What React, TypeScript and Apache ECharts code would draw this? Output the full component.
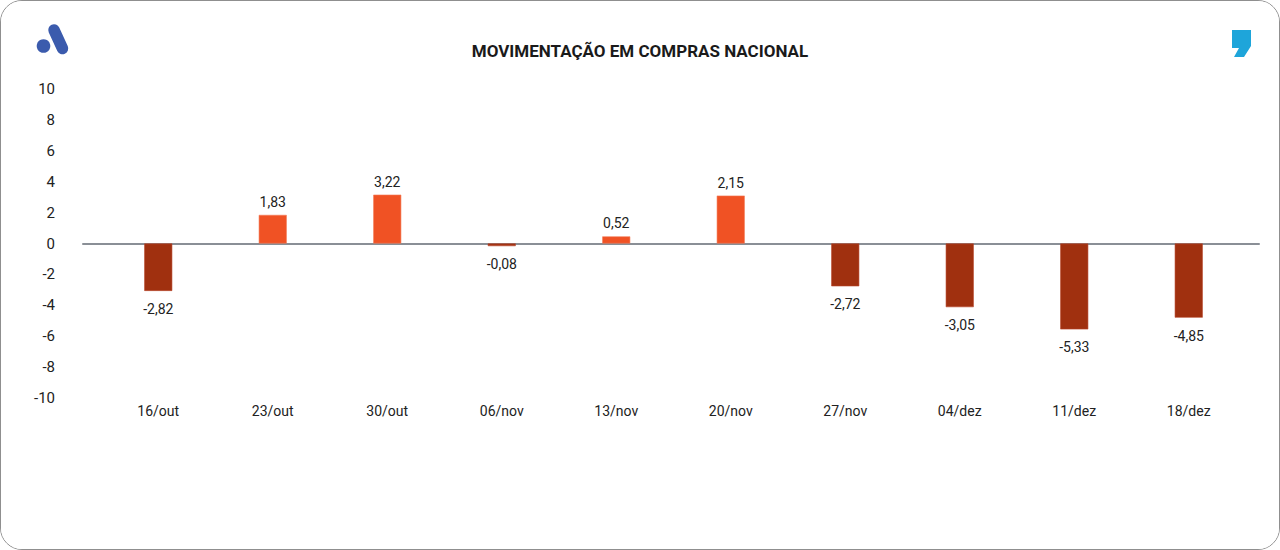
import React, { useEffect, useRef } from "react";
import * as echarts from "echarts";

const categories = ["16/out", "23/out", "30/out", "06/nov", "13/nov", "20/nov", "27/nov", "04/dez", "11/dez", "18/dez"];
// bar heights as drawn in the picture
const barValues = [-3.07, 1.85, 3.16, -0.17, 0.46, 3.1, -2.77, -4.12, -5.56, -4.8];
// value labels as printed in the picture
const labelTexts = ["-2,82", "1,83", "3,22", "-0,08", "0,52", "2,15", "-2,72", "-3,05", "-5,33", "-4,85"];
const yTicks = { min: -10, max: 10, interval: 2 };
const title = "MOVIMENTAÇÃO EM COMPRAS NACIONAL";

const POS = "#F05224";
const NEG = "#A0300F";
const FONT = "Roboto, 'Noto Sans', sans-serif";

export default function App() {
  const ref = useRef<HTMLDivElement>(null);
  useEffect(() => {
    if (!ref.current) return;
    const chart = echarts.init(ref.current, undefined, { renderer: "svg" });
    chart.setOption({
      animation: false,
      backgroundColor: "#fff",
      textStyle: { fontFamily: FONT },
      title: {
        text: title,
        left: "center",
        top: 36,
        textStyle: { fontSize: 17, fontWeight: "bold", color: "#1a1a1a", fontFamily: FONT },
      },
      graphic: [
        { type: "circle", shape: { cx: 42.5, cy: 45, r: 6.8 }, style: { fill: "#3B5BAD" } },
        {
          type: "line",
          shape: { x1: 53, y1: 29, x2: 61.5, y2: 47.5 },
          style: { stroke: "#3B5BAD", lineWidth: 11.5, lineCap: "round" },
        },
        {
          type: "polygon",
          shape: {
            points: [
              [1231, 29], [1250, 29], [1250, 45], [1243, 56], [1233, 56], [1238, 47], [1231, 47],
            ],
          },
          style: { fill: "#1EA5DA" },
        },
      ],
      grid: [
        { left: 100, right: 33, top: 88, bottom: 151 },
        { left: 82, right: 20, top: 88, bottom: 151 },
      ],
      xAxis: [
        {
          type: "category",
          gridIndex: 0,
          data: categories,
          axisLine: { show: false, onZero: false },
          axisTick: { show: false },
          axisLabel: { color: "#222", fontSize: 14, margin: 6, fontFamily: FONT },
        },
        {
          type: "category",
          gridIndex: 1,
          data: [""],
          axisLine: { show: true, onZero: true, lineStyle: { color: "#8A8F96", width: 2 } },
          axisTick: { show: false },
          axisLabel: { show: false },
        },
      ],
      yAxis: [
        {
          type: "value",
          gridIndex: 0,
          min: yTicks.min,
          max: yTicks.max,
          interval: yTicks.interval,
          splitLine: { show: false },
          axisLine: { show: false },
          axisTick: { show: false },
          axisLabel: { color: "#222", fontSize: 15, margin: 46, fontFamily: FONT },
        },
        {
          type: "value",
          gridIndex: 1,
          min: yTicks.min,
          max: yTicks.max,
          show: false,
        },
      ],
      series: [
        {
          type: "bar",
          xAxisIndex: 0,
          yAxisIndex: 0,
          barWidth: 28,
          z: 3,
          data: barValues.map((v, i) => ({
            value: v,
            itemStyle: { color: v >= 0 ? POS : NEG, borderColor: v >= 0 ? "#F47A55" : "#B8452A", borderWidth: 0.6 },
            label: {
              show: true,
              position: v >= 0 ? "top" : "bottom",
              distance: v >= 0 ? 6 : 11,
              formatter: () => labelTexts[i],
              color: "#222",
              fontSize: 14,
              fontFamily: FONT,
            },
          })),
        },
      ],
    });
    return () => chart.dispose();
  }, []);
  return (
    <div
      ref={ref}
      style={{
        position: "absolute",
        left: 0,
        top: 0,
        width: 1280,
        height: 550,
        boxSizing: "border-box",
        border: "1.5px solid #8f8f8f",
        borderRadius: 22,
        overflow: "hidden",
        background: "#fff",
      }}
    />
  );
}
